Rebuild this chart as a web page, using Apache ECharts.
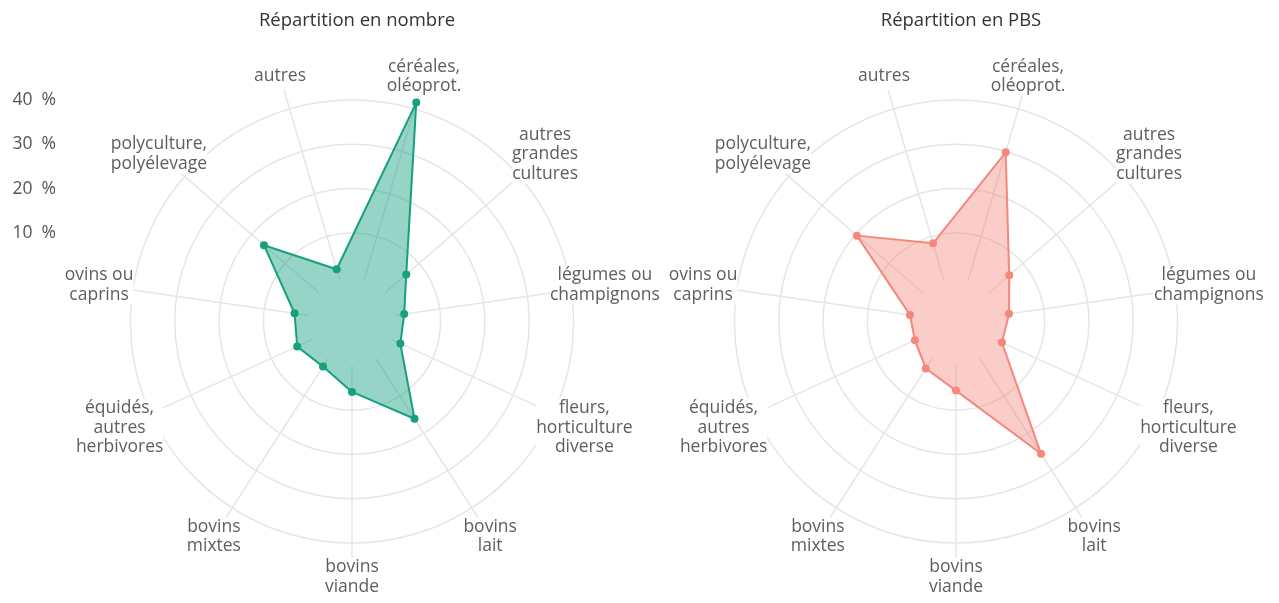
<!DOCTYPE html>
<html>
<head>
<meta charset="utf-8">
<script src="https://cdn.jsdelivr.net/npm/echarts@6/dist/echarts.min.js"></script>
<style>
    html, body { margin: 0; padding: 0; background: #fff; }
    #chart { width: 1279px; height: 603px; }
</style>
</head>
<body>
<div id="chart"></div>
<script>
// indicateurs, dans l'ordre de l'axe (sens anti-horaire à partir de céréales)
const categories = [
    'céréales,\noléoprot.', 'autres', 'polyculture,\npolyélevage', 'ovins ou\ncaprins',
    'équidés,\nautres\nherbivores', 'bovins\nmixtes', 'bovins\nviande', 'bovins\nlait',
    'fleurs,\nhorticulture\ndiverse', 'légumes ou\nchampignons', 'autres\ngrandes\ncultures'
];
// part en %
const nombre = [41.5, 2.3, 16.3, 3.1, 3.6, 2.1, 5.9, 16.1, 2.0, 1.9, 6.2];
const pbs = [29.8, 8.4, 19.6, 0.5, 0.2, 2.6, 5.6, 25.5, 1.4, 2.1, 5.9];
// graduations
const ticks = [0, 10, 20, 30, 40];
const titles = ['Répartition en nombre', 'Répartition en PBS'];

const font = '"Open Sans", Lato, sans-serif';
const grey = '#e6e6e6';
const centers = [[352, 321.5], [956, 321.5]];
const r0 = 44.3, r1 = 221.5;

const indicator = categories.map(name => ({ name: name, min: ticks[0], max: ticks[ticks.length - 1] }));

let chart = echarts.init(document.getElementById('chart'));

let radars = [];
centers.forEach(c => {
    // axes seulement, un peu plus longs que les cercles
    radars.push({
        center: c,
        radius: [r0, 241],
        startAngle: 90 - 360 / categories.length / 2,
        indicator: indicator,
        shape: 'circle',
        splitNumber: 4,
        axisName: { show: false },
        axisLine: { lineStyle: { color: grey, width: 1.5 } },
        splitLine: { show: false },
        splitArea: { show: false }
    });
    // cercles + noms
    radars.push({
        center: c,
        radius: [r0, r1],
        startAngle: 90 - 360 / categories.length / 2,
        indicator: indicator,
        shape: 'circle',
        splitNumber: 4,
        nameGap: 34,
        axisName: {
            color: '#5e5e5e',
            fontFamily: font,
            fontSize: 17.5,
            lineHeight: 19.5,
            align: 'center',
            verticalAlign: 'middle',
            backgroundColor: '#fff'
        },
        axisLine: { show: false },
        // pas de cercle pour 0
        splitLine: { lineStyle: { color: ['rgba(0,0,0,0)', grey, grey, grey, grey], width: 1.5 } },
        splitArea: { show: false }
    });
});

let option = {
    backgroundColor: '#fff',
    animation: false,
    title: titles.map((t, i) => ({
        text: t,
        left: centers[i][0],
        top: 6,
        textAlign: 'center',
        textStyle: { fontFamily: font, fontSize: 18.5, fontWeight: 'normal', color: '#333' }
    })),
    // échelle à gauche
    grid: { left: 56, top: 100, width: 10, height: (r1 - r0) },
    xAxis: { type: 'value', show: false },
    yAxis: {
        type: 'value',
        min: ticks[0],
        max: ticks[ticks.length - 1],
        interval: 10,
        axisLine: { show: false },
        axisTick: { show: false },
        splitLine: { show: false },
        axisLabel: {
            margin: 0,
            color: '#555',
            fontFamily: font,
            fontSize: 17.5,
            formatter: v => v === 0 ? '' : v + '  %'
        }
    },
    radar: radars,
    series: [
        {
            type: 'radar',
            radarIndex: 1,
            symbol: 'circle',
            symbolSize: 8,
            lineStyle: { width: 2, color: '#16a07f' },
            itemStyle: { color: '#16a07f' },
            areaStyle: { color: '#16a07f', opacity: 0.45 },
            data: [{ name: titles[0], value: nombre }]
        },
        {
            type: 'radar',
            radarIndex: 3,
            symbol: 'circle',
            symbolSize: 8,
            lineStyle: { width: 2, color: '#f4897b' },
            itemStyle: { color: '#f4897b' },
            areaStyle: { color: '#f4897b', opacity: 0.42 },
            data: [{ name: titles[1], value: pbs }]
        }
    ]
};
chart.setOption(option);
</script>
</body>
</html>
